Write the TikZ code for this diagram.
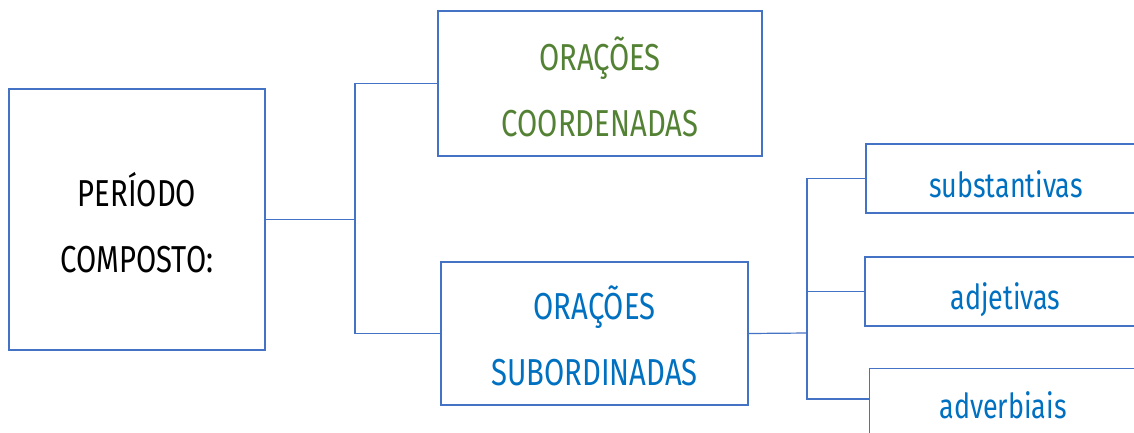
\documentclass[tikz,border=0pt]{standalone}
\usepackage{fontspec}
\setmainfont{Fira Sans}[FakeStretch=0.78]
\definecolor{linec}{HTML}{4472C4}
\definecolor{greent}{HTML}{548235}
\definecolor{bluet}{HTML}{0070C0}
\newcommand\boxtext[2]{\raisebox{-#1}[\height][\depth]{\begin{tabular}{@{}c@{}}#2\end{tabular}}}
\begin{document}
\begin{tikzpicture}[x=1pt,y=-1pt,
  box/.style={draw=linec,line width=1.2pt,inner sep=0pt,font=\fontsize{37.5}{66}\selectfont},
  small/.style={font=\fontsize{34.5}{66}\selectfont},
  conn/.style={draw=linec,line width=1.2pt}]
\clip (0,0) rectangle (1134,432);
\fill[white] (0,0) rectangle (1134,432);
% boxes
\node[box,minimum width=256pt,minimum height=261pt,text=black] (P) at (137,219.5) {\boxtext{7pt}{PERÍODO\\COMPOSTO:}};
\node[box,minimum width=324pt,minimum height=145pt,text=greent] (C) at (600,83.5) {\boxtext{6.5pt}{ORAÇÕES\\COORDENADAS}};
\node[box,minimum width=307pt,minimum height=143pt,text=bluet] (S) at (594.5,333.5) {\boxtext{5.5pt}{ORAÇÕES\\SUBORDINADAS}};
\node[box,small,minimum width=280pt,minimum height=69pt,text=bluet] (sub) at (1006,178.5) {\boxtext{5.3pt}{substantivas}};
\node[box,small,minimum width=281pt,minimum height=69pt,text=bluet] (adj) at (1005.5,291.5) {\boxtext{4.3pt}{adjetivas}};
\node[box,minimum width=277pt,minimum height=80pt,anchor=north west] (adv) at (869,368) {};
\node[small,text=bluet,inner sep=0pt,anchor=base] (advt) at (1003,418) {adverbiais};
% junctions
\coordinate (j1) at (355,219.5);
\coordinate (j2) at (807,333);
\coordinate (j3) at (0,399);
\draw[conn] (P.east) -- (j1);
\draw[conn] (C.west) -| (j1) |- (S.west);
\draw[conn] (S.east) -- (j2);
\draw[conn] (sub.west) -| (j2) |- (adv.west |- j3);
\draw[conn] (j2 |- adj.west) -- (adj.west);
\end{tikzpicture}
\end{document}
